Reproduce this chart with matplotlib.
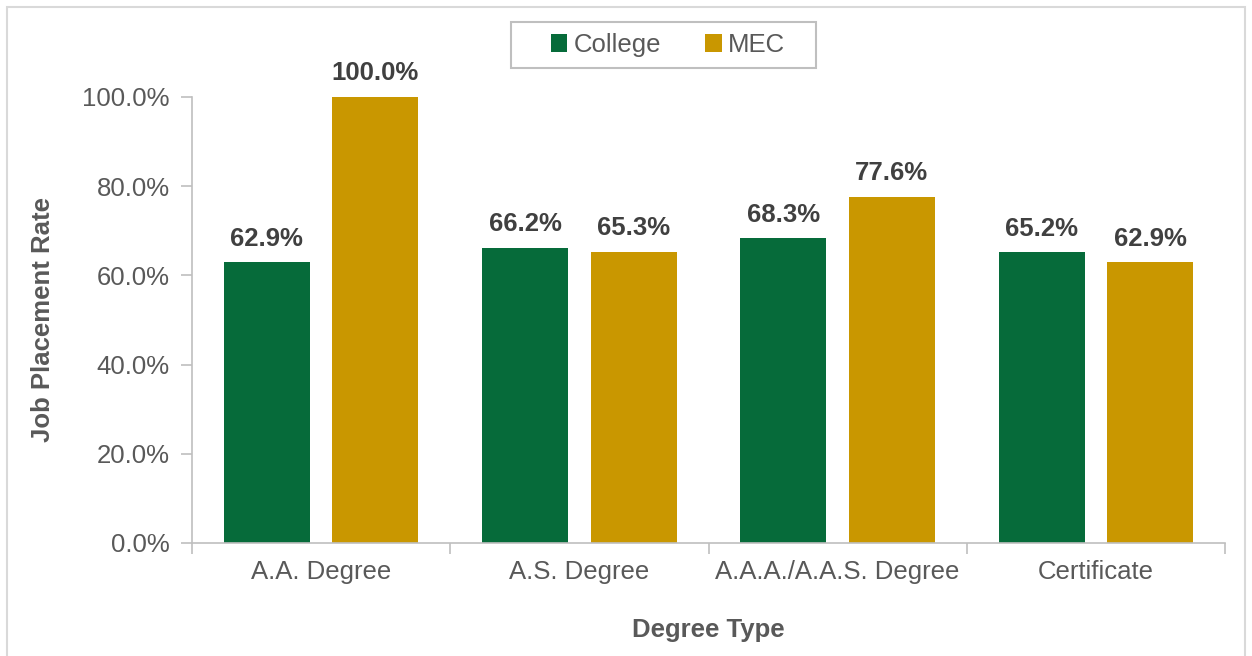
import matplotlib
matplotlib.use("Agg")
import matplotlib.pyplot as plt
from matplotlib.patches import Rectangle
import numpy as np

plt.rcParams['font.family'] = ['Liberation Sans', 'DejaVu Sans']

categories = ["A.A. Degree", "A.S. Degree", "A.A.A./A.A.S. Degree", "Certificate"]
college = [62.9, 66.2, 68.3, 65.2]
mec = [100.0, 65.3, 77.6, 62.9]
series_names = ["College", "MEC"]
colors = ["#066B3A", "#C99700"]
yticks = [0, 20, 40, 60, 80, 100]

W, H = 1252, 656
fig = plt.figure(figsize=(W/100, H/100), dpi=100)
ax = fig.add_axes([192/W, 1-543/H, (1225-192)/W, (543-97)/H])

# outer frame
fig.patches.append(Rectangle((7/W, -0.05), (1245-7)/W, 1.05-7/H, transform=fig.transFigure,
                             fill=False, edgecolor="#D9D9D9", linewidth=1.5))
# legend frame
fig.patches.append(Rectangle((511/W, 1-68/H), (816-511)/W, 46/H, transform=fig.transFigure,
                             fill=False, edgecolor="#BFBFBF", linewidth=1.5))

x = np.arange(len(categories))
bw = 0.333
off = 0.21
tc = "#595959"
for vals, o, c, name in [(college, -off, colors[0], series_names[0]), (mec, off, colors[1], series_names[1])]:
    bars = ax.bar(x + o, vals, bw, color=c, label=name)
    for b, v in zip(bars, vals):
        ax.text(b.get_x() + b.get_width()/2, v + 2.6, f"{v:.1f}%", ha="center", va="bottom",
                fontsize=18.5, fontweight="bold", color="#404040")

ax.set_xlim(-0.5, len(categories) - 0.5)
ax.set_ylim(0, 100)
ax.set_yticks(yticks)
ax.set_yticklabels([f"{t:.1f}%" for t in yticks], fontsize=18.5, color=tc)
ax.set_xticks(x)
ax.set_xticklabels(categories, fontsize=18.5, color=tc)
ax.tick_params(axis='x', length=0, pad=12)
ax.set_xticks(np.arange(len(categories) + 1) - 0.5, minor=True)
ax.tick_params(axis='x', which='minor', length=8, color="#BFBFBF", width=1.2)
ax.tick_params(axis='y', length=8, color="#BFBFBF", width=1.2, pad=8)
for s in ["top", "right"]:
    ax.spines[s].set_visible(False)
for s in ["left", "bottom"]:
    ax.spines[s].set_color("#BFBFBF")
    ax.spines[s].set_linewidth(1.2)

ax.set_ylabel("Job Placement Rate", fontsize=18.5, fontweight="bold", color=tc)
ax.yaxis.set_label_coords((43 - 192)/(1225-192), 0.5)
ax.yaxis.label.set_va("center")
ax.set_xlabel("Degree Type", fontsize=18.5, fontweight="bold", color=tc)
ax.xaxis.set_label_coords(0.5, -(630-543)/(543-97))
ax.xaxis.label.set_va("center")

leg = fig.legend(loc="center", bbox_to_anchor=(668/W, 1-45/H), ncol=2, frameon=False,
                 fontsize=18.5, handlelength=0.65, handleheight=0.65, handletextpad=0.25,
                 columnspacing=1.7, borderpad=0.45, borderaxespad=0)
for t in leg.get_texts():
    t.set_color(tc)

fig.savefig("out.png", dpi=100)
